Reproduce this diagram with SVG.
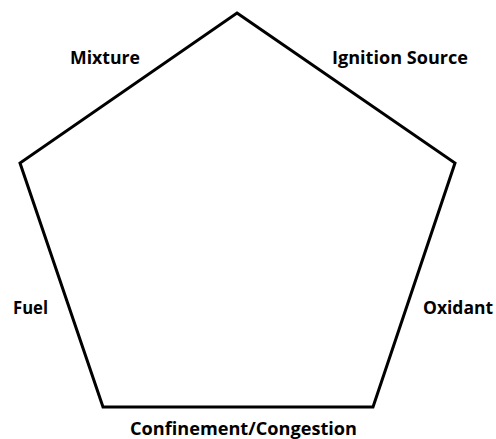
<svg xmlns="http://www.w3.org/2000/svg" width="496" height="439" viewBox="0 0 496 439">
<style>
.lbl{font-family:"Open Sans","Liberation Sans",sans-serif;font-weight:bold;font-size:17px;fill:#000}
.edge{fill:none;stroke:#000;stroke-width:3;stroke-linejoin:miter}
</style>
<rect width="496" height="439" fill="#fff"/>
<g id="connectors">
<polygon class="edge" points="237,13 455,163 373,407 103,407 20,163"/>
</g>
<g id="mixture"><text class="lbl" x="70" y="64" textLength="70" lengthAdjust="spacingAndGlyphs">Mixture</text></g>
<g id="ignition"><text class="lbl" x="332" y="64" textLength="136" lengthAdjust="spacingAndGlyphs">Ignition Source</text></g>
<g id="fuel"><text class="lbl" x="13" y="314" textLength="35" lengthAdjust="spacingAndGlyphs">Fuel</text></g>
<g id="oxidant"><text class="lbl" x="423" y="314" textLength="70" lengthAdjust="spacingAndGlyphs">Oxidant</text></g>
<g id="confinement"><text class="lbl" x="130" y="435" textLength="227" lengthAdjust="spacingAndGlyphs">Confinement/Congestion</text></g>
</svg>
